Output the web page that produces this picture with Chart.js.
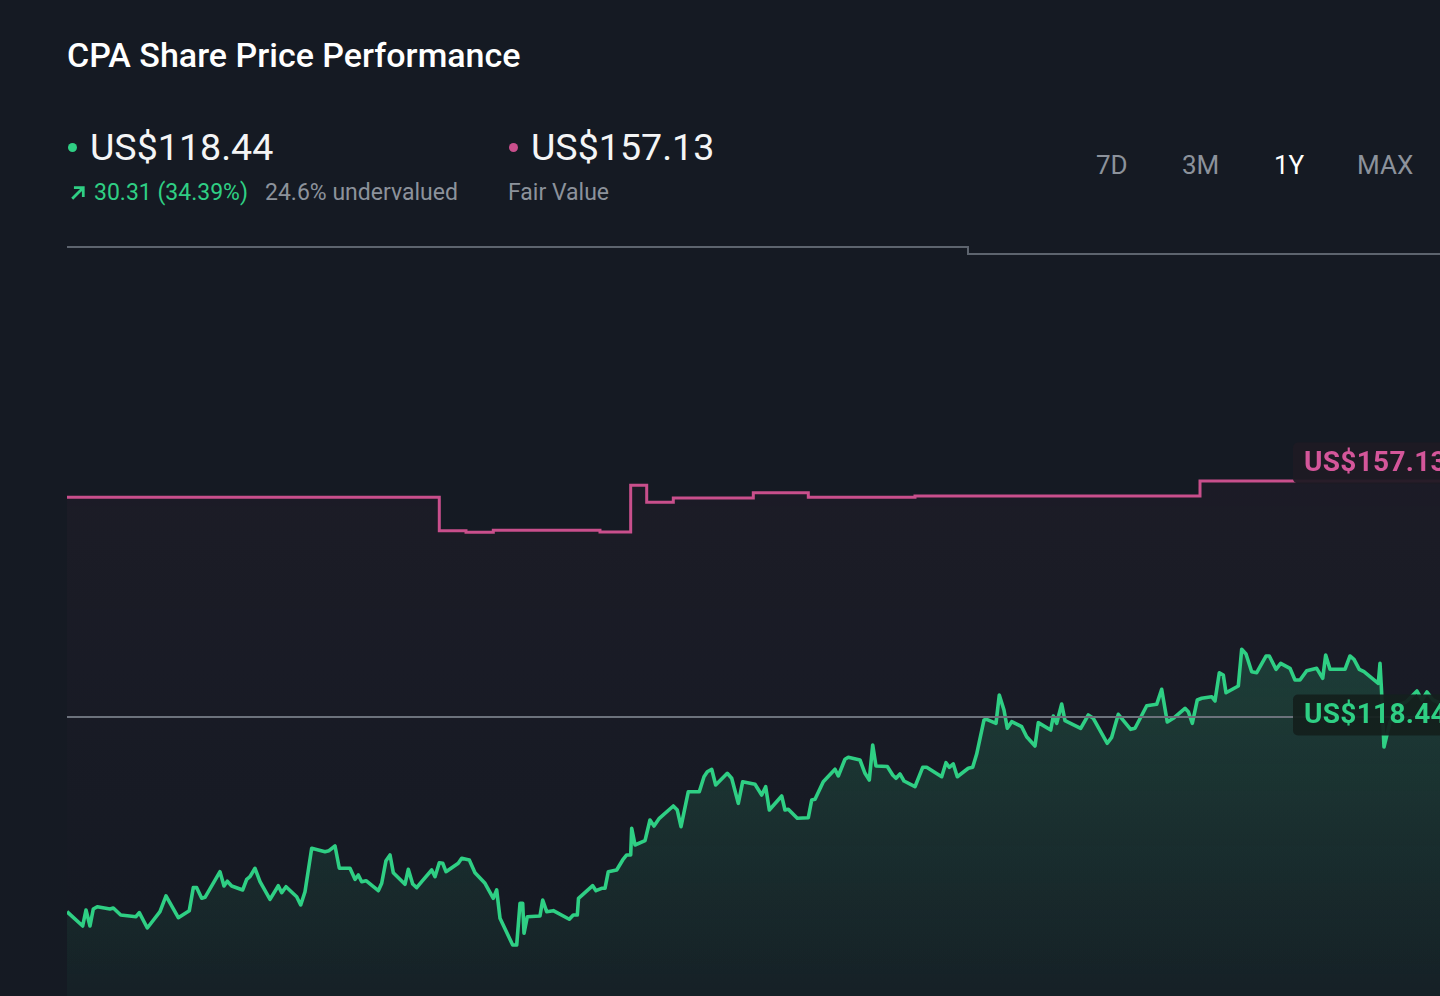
<!DOCTYPE html>
<html>
<head>
<meta charset="utf-8">
<script src="https://cdn.jsdelivr.net/npm/chart.js@4.4.1/dist/chart.umd.min.js"></script>
<style>
  html, body { margin: 0; padding: 0; }
  body { width: 1440px; height: 996px; background: #151a23; position: relative; overflow: hidden; font-family: Roboto, "Noto Sans", sans-serif; }
  .t { position: absolute; white-space: nowrap; line-height: 1; }
  #title { left: 67px; top: 38px; font-size: 34px; font-weight: 500; color: #ffffff; }
  .dot { position: absolute; width: 9px; height: 9px; border-radius: 50%; }
  .big { font-size: 37.6px; color: #f4f5f6; top: 129px; }
  .sub { font-size: 23px; top: 181px; color: #8c929b; }
  .btn { font-size: 26px; top: 152px; color: #8c929b; }
  #chartBox { position: absolute; left: 67px; top: 230px; width: 1373px; height: 766px; }
</style>
</head>
<body>
<div id="title" class="t">CPA Share Price Performance</div>

<div class="dot" style="left:68px; top:143px; background:#2fcf84;"></div>
<div class="t big" style="left:90px;">US$118.44</div>
<svg style="position:absolute; left:70px; top:184px;" width="17" height="17" viewBox="0 0 16 16">
  <path d="M3 13 L12 4 M5 3.5 L12.5 3.5 L12.5 11" stroke="#2fcf84" stroke-width="2.6" fill="none" stroke-linecap="square"/>
</svg>
<div class="t sub" style="left:94px; color:#2fcf84;">30.31 (34.39%)</div>
<div class="t sub" style="left:265px;">24.6% undervalued</div>

<div class="dot" style="left:509px; top:143px; background:#c94f8c;"></div>
<div class="t big" style="left:531px;">US$157.13</div>
<div class="t sub" style="left:508px;">Fair Value</div>

<div class="t btn" style="left:1096px;">7D</div>
<div class="t btn" style="left:1182px;">3M</div>
<div class="t btn" style="left:1274px; color:#ffffff;">1Y</div>
<div class="t btn" style="left:1357px;">MAX</div>

<div id="chartBox"><canvas id="c"></canvas></div>

<script>
// ---- Data (days since start of the 1Y window, US$) ----
const priceDays = [0,4.17,5.05,6.11,6.99,8.05,11.43,12.31,14.28,18.34,19.22,21.35,24.72,26.32,29.59,32.51,33.58,34.48,35.81,36.69,
  40.67,41.74,42.61,43.78,46.71,47.77,48.65,49.98,51.31,53.97,56.17,57.08,58.22,61.06,62.13,63.27,65.05,68.59,69.65,71.25,
  72.39,75.23,76.56,77.44,78.34,79.49,82.76,83.66,84.80,85.87,86.74,89.85,90.73,91.90,92.96,94.29,96.95,97.83,98.97,99.88,
  100.75,104.02,104.93,106.95,108.46,111.12,113.33,114.23,115.11,118.48,119.55,120.43,121.14,121.49,122.37,125.74,126.46,127.52,129.28,133.53,
  134.59,135.66,135.98,139.75,140.63,142.14,143.02,143.90,146.13,147.73,148.79,149.85,150.12,151.00,153.66,154.98,156.05,157.46,161.18,162.24,
  163.23,165.17,168.09,169.34,170.22,171.39,172.45,175.53,176.70,178.46,179.63,182.90,184.68,185.74,186.70,190.00,190.87,191.75,194.14,197.07,
  197.97,198.85,201.05,204.17,205.04,206.82,207.70,210.81,212.14,213.28,214.19,215.06,218.07,219.50,220.38,221.44,222.51,225.43,227.48,228.54,
  232.53,233.67,234.55,235.61,236.68,239.60,240.77,241.83,243.78,244.49,246.97,247.84,249.09,249.97,251.14,253.80,255.12,257.33,258.21,261.51,
  262.20,263.10,264.43,265.31,269.48,271.50,272.83,276.55,277.72,279.48,282.77,283.92,287.03,289.68,291.01,292.50,294.10,297.21,298.09,299.15,
  300.48,301.65,304.31,305.18,306.33,307.39,308.11,311.38,312.28,313.43,314.94,316.27,318.74,319.62,321.40,322.65,325.12,326.45,327.78,329.56,
  332.22,333.82,334.61,335.76,339.74,341.07,342.14,343.54,344.79,348.59,349.05,349.45,350.11,351.71,353.83,355.96,358.88,360.21,361.54,363.14,365];
const priceValues = [86.52,84.18,86.80,84.18,86.96,87.34,86.96,87.13,85.98,85.70,86.36,83.85,86.52,89.10,85.54,86.69,90.46,90.46,88.72,88.88,
  93.08,90.74,91.51,90.74,90.08,91.83,92.26,93.64,91.44,88.55,90.78,89.64,90.62,88.98,87.62,89.80,96.92,96.36,96.52,97.29,
  93.64,93.64,91.83,92.54,91.44,91.60,89.96,91.18,94.88,95.82,92.92,91.01,93.47,91.06,90.46,91.44,93.36,92.26,94.55,94.46,
  93.08,94.46,95.28,95.00,92.92,91.18,88.72,90.08,85.44,81.06,81.06,87.90,87.90,82.98,85.70,85.82,88.44,86.52,86.69,85.28,
  85.98,85.98,88.72,90.78,89.96,90.36,90.36,93.08,93.36,95.00,95.82,95.82,100.19,97.46,98.16,101.55,100.57,101.83,103.85,103.19,
  100.46,106.19,106.19,108.65,109.47,109.87,107.29,109.21,108.39,104.29,107.83,107.41,105.65,107.01,103.19,105.49,103.19,103.31,101.83,101.93,
  104.83,104.95,107.83,109.87,108.77,111.51,111.83,111.39,109.21,108.11,113.85,110.41,110.33,108.93,108.39,109.10,107.95,107.01,110.19,110.19,
  108.65,110.95,110.19,110.74,108.65,110.03,110.19,112.37,117.95,118.06,117.41,122.05,119.59,116.59,117.67,116.85,115.21,113.69,117.51,116.31,
  118.60,117.41,120.57,117.83,116.59,118.77,118.23,114.13,115.11,118.88,116.42,116.59,120.29,120.52,122.98,117.62,118.23,119.87,119.31,117.41,
  121.23,121.51,121.77,121.06,125.70,125.33,122.42,123.52,129.54,128.77,125.87,125.70,128.44,128.44,126.26,127.24,126.42,124.51,124.51,126.03,
  126.42,124.78,128.60,126.26,126.26,128.44,127.90,126.26,125.87,123.96,127.24,122.87,113.52,117.62,120.41,120.90,122.70,121.23,122.54,121.23,120.74];

const fairDays   = [0, 98.97, 106.07, 113.33, 141.69, 149.85, 154.11, 161.18, 182.45, 197.07, 225.43, 301.20, 365];
const fairValues = [154.46, 148.98, 148.72, 149.05, 148.77, 156.42, 153.64, 154.34, 155.21, 154.46, 154.67, 157.13, 157.13];

const upperDays   = [0, 239.52, 365];
const upperValues = [195.49, 194.34, 194.34];

const currentPrice = 118.44;
const fairValue = 157.13;
const priceLabel = 'US$118.44';
const fairLabel = 'US$157.13';

const toXY = (xs, ys) => xs.map((x, i) => ({ x: x, y: ys[i] }));

const GREEN = '#2fcf84';
const PINK = '#c94f8c';

function greenFill(ctx) {
  const ch = ctx.chart; const a = ch.chartArea;
  if (!a) return 'rgba(47,207,132,0.12)';
  const g = ch.ctx.createLinearGradient(0, a.top + 400, 0, a.bottom);
  g.addColorStop(0, 'rgba(47,207,132,0.20)');
  g.addColorStop(1, 'rgba(47,207,132,0.04)');
  return g;
}
function pinkFill(ctx) {
  const ch = ctx.chart; const a = ch.chartArea;
  if (!a) return 'rgba(201,79,140,0.03)';
  const g = ch.ctx.createLinearGradient(0, a.top + 250, 0, a.bottom);
  g.addColorStop(0, 'rgba(201,79,140,0.04)');
  g.addColorStop(1, 'rgba(201,79,140,0.0)');
  return g;
}

const labelPlugin = {
  id: 'valueLabels',
  afterDatasetsDraw(chart) {
    const ctx = chart.ctx; const y = chart.scales.y;
    const boxX = 1226, boxW = 160, boxH = 41;
    const items = [
      { text: fairLabel, cy: y.getPixelForValue(fairValue) - 18, color: '#d4569a', bg: 'rgba(30,27,35,0.94)' },
      { text: priceLabel, cy: y.getPixelForValue(currentPrice) - 2, color: '#2fcf84', bg: 'rgba(20,32,30,0.94)' }
    ];
    ctx.save();
    items.forEach(it => {
      ctx.fillStyle = it.bg;
      ctx.beginPath();
      ctx.roundRect(boxX, it.cy - boxH / 2, boxW, boxH, 5);
      ctx.fill();
      ctx.fillStyle = it.color;
      ctx.font = 'bold 28px Roboto, sans-serif';
      ctx.letterSpacing = '0.3px';
      ctx.textBaseline = 'middle';
      ctx.textAlign = 'left';
      ctx.fillText(it.text, boxX + 11, it.cy + 1);
    });
    ctx.restore();
  }
};

new Chart(document.getElementById('c'), {
  type: 'line',
  data: {
    datasets: [
      { label: 'Upper', data: toXY(upperDays, upperValues), borderColor: '#5d646e', borderWidth: 2, stepped: true, pointRadius: 0, fill: false, order: 4 },
      { label: 'Current', data: toXY([0, 365], [currentPrice, currentPrice]), borderColor: '#6c727c', borderWidth: 2, pointRadius: 0, fill: false, order: 1 },
      { label: 'Fair Value', data: toXY(fairDays, fairValues), borderColor: PINK, borderWidth: 3, stepped: true, pointRadius: 0, fill: 'start', backgroundColor: pinkFill, order: 3 },
      { label: 'Price', data: toXY(priceDays, priceValues), borderColor: GREEN, borderWidth: 3.6, tension: 0, pointRadius: 0, fill: 'start', backgroundColor: greenFill, order: 2, borderJoinStyle: 'round' }
    ]
  },
  options: {
    responsive: true,
    maintainAspectRatio: false,
    animation: false,
    layout: { padding: 0 },
    plugins: { legend: { display: false }, tooltip: { enabled: false } },
    scales: {
      x: { type: 'linear', min: 0, max: 365, display: false },
      y: { type: 'linear', min: 72.70, max: 198.28, display: false }
    }
  },
  plugins: [labelPlugin]
});
</script>
</body>
</html>
